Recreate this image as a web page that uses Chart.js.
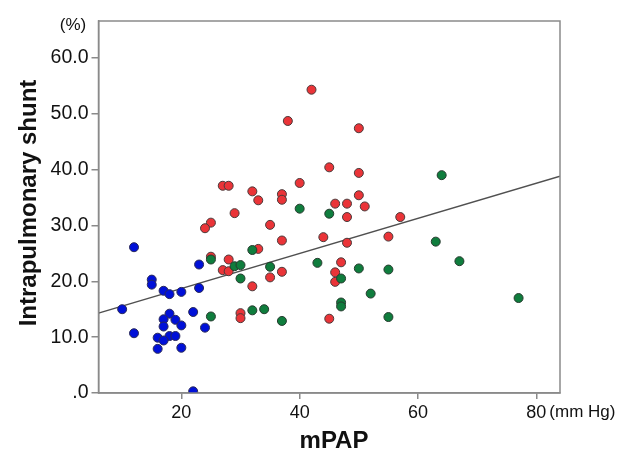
<!DOCTYPE html>
<html>
<head>
<meta charset="utf-8">
<script src="https://cdn.jsdelivr.net/npm/chart.js@4.4.1/dist/chart.umd.min.js"></script>
<style>
  html, body { margin: 0; padding: 0; background: #fff; }
  #wrap { width: 626px; height: 450px; }
</style>
</head>
<body>
<div id="wrap"><canvas id="shuntChart" width="626" height="450"></canvas></div>
<script>
// mPAP (mm Hg) vs intrapulmonary shunt (%), three groups
var blueMpap  = [12, 23, 15, 15, 17, 18, 20, 23, 10, 18, 22, 17, 19, 17, 20, 24, 12, 16, 18, 19, 17, 16, 20, 22];
var blueShunt = [26.1, 23.0, 20.3, 19.4, 18.3, 17.7, 18.1, 18.8, 15.0, 14.2, 14.5, 13.2, 13.1, 11.9, 12.1, 11.7, 10.7, 9.9, 10.2, 10.2, 9.4, 7.9, 8.1, 0.3];

var redMpap  = [42, 38, 50, 45, 50, 40, 27, 28, 32, 37, 37, 33, 50, 46, 48, 51, 29, 48, 57, 25,
                24, 35, 44, 37, 55, 48, 33, 25, 28, 47, 27, 28, 37, 46, 46, 35, 32, 30, 30, 45];
var redShunt = [54.3, 48.7, 47.4, 40.4, 39.4, 37.6, 37.1, 37.1, 36.1, 35.6, 34.6, 34.5, 35.4, 33.9, 33.9, 33.4, 32.2, 31.5, 31.5, 30.5,
                29.5, 30.1, 27.9, 27.3, 28.0, 26.9, 25.8, 24.4, 23.9, 23.4, 22.0, 21.8, 21.7, 21.6, 19.9, 20.7, 19.1, 14.3, 13.4, 13.3];

var greenMpap  = [64, 40, 45, 63, 67, 32, 25, 43, 29, 30, 35, 50, 55, 47, 30, 52, 77, 47, 47, 55, 34, 32, 25, 37];
var greenShunt = [39.0, 33.0, 32.1, 27.1, 23.6, 25.6, 23.9, 23.3, 22.7, 22.9, 22.6, 22.3, 22.1, 20.5, 20.5, 17.8, 17.0, 16.2, 15.5, 13.6, 15.0, 14.8, 13.7, 12.9];

// fit line end points as drawn
var fitMpap  = [6, 84];
var fitShunt = [14.3, 38.8];

var xTicks = [20, 40, 60, 80];
var yTicks = [0, 10, 20, 30, 40, 50, 60];

function toPoints(xs, ys) {
    var pts = [];
    for (var i = 0; i < xs.length; i++) {
        pts.push({ x: xs[i], y: ys[i] });
    }
    return pts;
}

var axisGray = '#8a8a8a';
var fontFam = '"Liberation Sans", Arial, Helvetica, sans-serif';

// frame round the plot plus the extra labels
var extrasPlugin = {
    id: 'extras',
    afterDraw: function(chart) {
        var ctx = chart.ctx;
        var a = chart.chartArea;
        ctx.save();
        ctx.strokeStyle = axisGray;
        ctx.lineWidth = 1.5;
        ctx.strokeRect(a.left, a.top, a.right - a.left, a.bottom - a.top);

        ctx.fillStyle = '#111';
        ctx.textBaseline = 'alphabetic';
        ctx.font = '17px ' + fontFam;
        ctx.textAlign = 'center';
        ctx.fillText('(%)', 73, 30);
        ctx.textAlign = 'left';
        var x80 = chart.scales.x.getPixelForValue(80);
        ctx.fillText('(mm Hg)', x80 + 13, 417);

        ctx.font = 'bold 24px ' + fontFam;
        ctx.textAlign = 'center';
        ctx.fillText('mPAP', 334, 448);

        ctx.font = 'bold 24px ' + fontFam;
        ctx.translate(36, 203);
        ctx.rotate(-Math.PI / 2);
        ctx.fillText('Intrapulmonary shunt', 0, 0);
        ctx.restore();
    }
};

var ctx = document.getElementById('shuntChart').getContext('2d');
var shuntChart = new Chart(ctx, {
    type: 'scatter',
    data: {
        datasets: [{
            label: 'fit',
            type: 'line',
            data: toPoints(fitMpap, fitShunt),
            borderColor: '#505050',
            borderWidth: 1.5,
            pointRadius: 0,
            fill: false,
            order: 4
        }, {
            label: 'blue',
            data: toPoints(blueMpap, blueShunt),
            backgroundColor: '#0010d8',
            borderColor: '#2a2a5a',
            borderWidth: 1,
            pointRadius: 4.5,
            order: 3
        }, {
            label: 'red',
            data: toPoints(redMpap, redShunt),
            backgroundColor: '#ea3438',
            borderColor: '#4a3a3a',
            borderWidth: 1,
            pointRadius: 4.5,
            order: 2
        }, {
            label: 'green',
            data: toPoints(greenMpap, greenShunt),
            backgroundColor: '#0f7d3d',
            borderColor: '#263a2e',
            borderWidth: 1,
            pointRadius: 4.5,
            order: 1
        }]
    },
    plugins: [extrasPlugin],
    options: {
        responsive: false,
        animation: false,
        events: [],
        layout: {
            padding: { left: 0, right: 66, top: 21, bottom: 0 }
        },
        plugins: {
            legend: { display: false },
            tooltip: { enabled: false }
        },
        scales: {
            x: {
                type: 'linear',
                min: 6,
                max: 84,
                afterBuildTicks: function(scale) {
                    scale.ticks = xTicks.map(function(v) { return { value: v }; });
                },
                afterFit: function(scale) { scale.height = 57; },
                border: { display: true, color: axisGray, width: 1.5 },
                grid: { drawOnChartArea: false, tickLength: 6, color: axisGray, lineWidth: 1.5 },
                ticks: {
                    padding: 3,
                    maxRotation: 0,
                    color: '#111',
                    font: { family: fontFam, size: 18 }
                }
            },
            y: {
                type: 'linear',
                min: 0,
                max: 66.6,
                afterBuildTicks: function(scale) {
                    scale.ticks = yTicks.map(function(v) { return { value: v }; });
                },
                afterFit: function(scale) { scale.width = 98.5; },
                border: { display: true, color: axisGray, width: 1.5 },
                grid: { drawOnChartArea: false, tickLength: 7, color: axisGray, lineWidth: 1.5 },
                ticks: {
                    padding: 3,
                    color: '#111',
                    font: { family: fontFam, size: 19.5 },
                    callback: function(value) {
                        return value === 0 ? '.0' : value.toFixed(1);
                    }
                }
            }
        }
    }
});
</script>
</body>
</html>
